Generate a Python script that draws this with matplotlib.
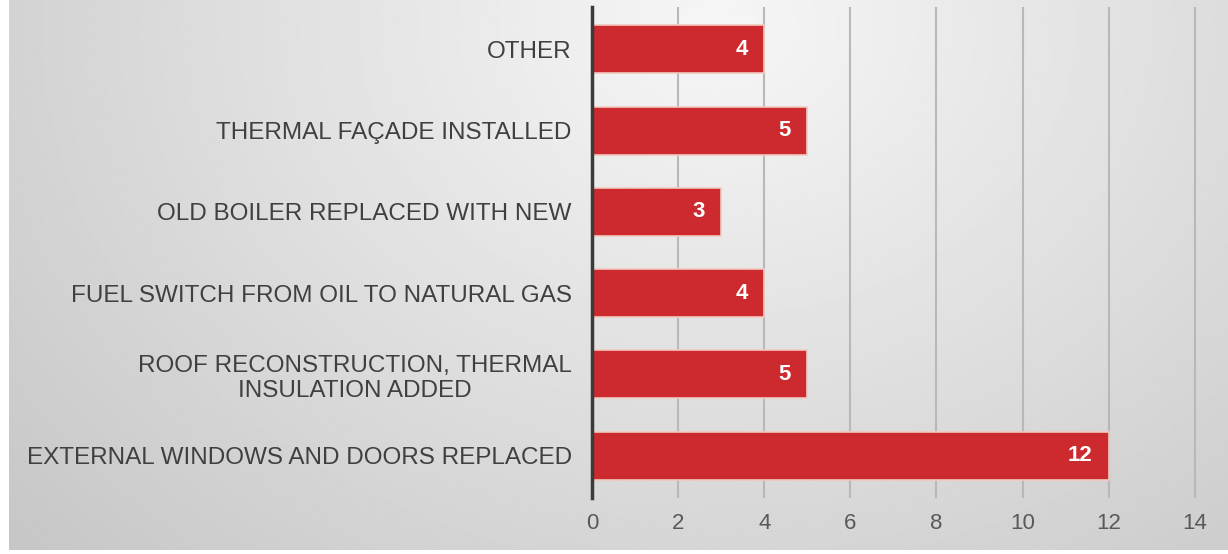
import numpy as np
import matplotlib.pyplot as plt

# Measures carried out, bottom to top
measures = [
    'EXTERNAL WINDOWS AND DOORS REPLACED',
    'ROOF RECONSTRUCTION, THERMAL\nINSULATION ADDED',
    'FUEL SWITCH FROM OIL TO NATURAL GAS',
    'OLD BOILER REPLACED WITH NEW',
    'THERMAL FAÇADE INSTALLED',
    'OTHER',
]
counts = [12, 5, 4, 3, 5, 4]
x_ticks = [0, 2, 4, 6, 8, 10, 12, 14]

plt.rcParams['font.family'] = ['Liberation Sans', 'DejaVu Sans']

fig = plt.figure(figsize=(12.28, 5.54), dpi=100)
fig.patch.set_facecolor('white')

# soft radial grey background
bg = fig.add_axes([0.0075, 0.007, 0.9925, 0.993], zorder=-5)
h, w = 300, 660
yy, xx = np.mgrid[0:h, 0:w]
d = np.sqrt(((xx / w - 0.58) * 1.6) ** 2 + ((yy / h - 0.05) * 0.9) ** 2)
shade = np.clip(0.965 - 0.15 * d, 0.76, 0.97)
bg.imshow(shade, cmap='gray', vmin=0, vmax=1, aspect='auto', interpolation='bilinear')
bg.axis('off')

ax = fig.add_axes([592 / 1228, 56 / 554, (1197 - 592) / 1228, (498 - 7) / 554])
ax.patch.set_alpha(0)

y = np.arange(len(measures))
bars = ax.barh(y, counts, height=0.59, color='#cc2a2e', edgecolor='#f2c9c0',
               linewidth=1.2, zorder=3)

for b, v in zip(bars, counts):
    ax.annotate(str(v), (v, b.get_y() + b.get_height() / 2), xytext=(-12, 0),
                textcoords='offset points', ha='right', va='center',
                color='white', fontsize=16, fontweight='bold', zorder=4,
                family=['Liberation Sans Narrow', 'Liberation Sans'])

ax.set_xlim(0, 14.05)
ax.set_ylim(-0.52, len(measures) - 0.48)
ax.set_xticks(x_ticks)
ax.set_yticks(y)
ax.set_yticklabels(measures, ha='right', multialignment='center',
                   fontsize=17.5, color='#404040')
ax.tick_params(axis='y', length=0, pad=14.5)
ax.tick_params(axis='x', length=0, pad=11, labelsize=16, labelcolor='#595959')

ax.grid(axis='x', color='#b8b8b8', linewidth=1.5, zorder=1)
for s in ['top', 'right', 'bottom']:
    ax.spines[s].set_visible(False)
ax.spines['left'].set_color('#3a3a3a')
ax.spines['left'].set_linewidth(2.5)
ax.spines['left'].set_zorder(5)

fig.savefig('out.png', dpi=100)
